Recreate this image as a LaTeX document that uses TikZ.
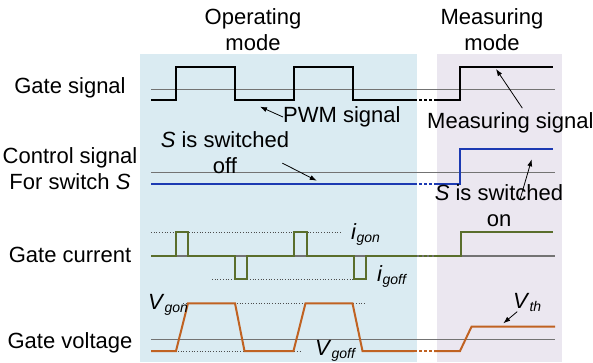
\documentclass[tikz,border=0pt]{standalone}
\usepackage{fontspec}
\setmainfont{Liberation Sans}
\usetikzlibrary{arrows.meta}
\definecolor{opblue}{RGB}{218,235,242}
\definecolor{measlilac}{RGB}{235,231,240}
\definecolor{ctrlblue}{RGB}{28,58,178}
\definecolor{curgreen}{RGB}{90,110,44}
\definecolor{voltorange}{RGB}{192,98,34}
\newcommand{\sigsub}[2]{\textit{#1}\raisebox{-3pt}{\fontsize{14}{14}\selectfont\textit{#2}}}

\begin{document}
\begin{tikzpicture}[x=1pt,y=-1pt,
  every node/.style={font=\fontsize{22}{26}\selectfont,inner sep=0pt},
  lbl/.style={align=center,anchor=base},
  refline/.style={draw=black!55,line width=1.2pt},
  dotline/.style={draw=black!70,line width=0.7pt,dotted},
  gap/.style={dash pattern=on 2.5pt off 2.5pt},
  pointer/.style={line width=0.8pt,-{Latex[length=7pt,width=5pt]}}]
\useasboundingbox (0,0) rectangle (593,362);

% mode areas
\fill[opblue] (140,54) rectangle (417,362);
\fill[measlilac] (437,54) rectangle (562,362);

\node[lbl] (opmode) at (253,50) {Operating\\mode};
\node[lbl] (measmode) at (492,50) {Measuring\\mode};

\node[lbl] (gsig) at (70,93.3) {Gate signal};
\node[lbl] (ctrl) at (70,189.3) {Control signal\\For switch \textit{S}};
\node[lbl] (gcur) at (70,262.3) {Gate current};
\node[lbl] (gvolt) at (70,348.3) {Gate voltage};

% reference lines
\draw[refline] (151,89.3) -- (555,89.3);
\draw[refline] (151,172.7) -- (555,172.7);
\draw[refline] (151,256) -- (555,256);
\draw[refline] (151,339.3) -- (555,339.3);

\draw[dotline] (151,232.3) -- (342,232.3);
\draw[dotline] (212,279.3) -- (367,279.3);
\draw[dotline] (183,303.3) -- (366,303.3);
\draw[dotline] (151,351) -- (300,351);

% gate signal
\draw[line width=2pt,line join=miter] (151,100) -- (176,100) -- (176,66.5) -- (235,66.5) -- (235,100)
  -- (294,100) -- (294,66.5) -- (353,66.5) -- (353,100) -- (414,100);
\draw[line width=2pt,gap] (414,100) -- (434,100);
\draw[line width=2pt] (434,100) -- (460,100) -- (460,66.5) -- (553,66.5);

% control signal
\draw[ctrlblue,line width=2pt] (151,184.3) -- (414,184.3);
\draw[ctrlblue,line width=2pt,gap] (414,184.3) -- (434,184.3);
\draw[ctrlblue,line width=2pt] (434,184.3) -- (460,184.3) -- (460,149) -- (553,149);

% gate current
\draw[curgreen,line width=2pt] (151,256) -- (176,256) -- (176,232.3) -- (188,232.3) -- (188,256)
  -- (234.5,256) -- (234.5,279.3) -- (247,279.3) -- (247,256)
  -- (293.5,256) -- (293.5,232.3) -- (306.5,232.3) -- (306.5,256)
  -- (353.5,256) -- (353.5,279.3) -- (366,279.3) -- (366,256) -- (414,256);
\draw[curgreen,line width=2pt,gap] (414,256) -- (434,256);
\draw[curgreen,line width=2pt] (434,256) -- (460.5,256) -- (460.5,232.3) -- (553,232.3);

% gate voltage
\draw[voltorange,line width=2pt] (151,351) -- (176,351) -- (188,303.3) -- (235,303.3) -- (244.5,351)
  -- (293.5,351) -- (305.5,303.3) -- (352.5,303.3) -- (362.5,351) -- (414,351);
\draw[voltorange,line width=2pt,gap] (414,351) -- (434,351);
\draw[voltorange,line width=2pt] (434,351) -- (460,351) -- (471.5,326.7) -- (555,326.7);

% labels and pointers
\node[anchor=base west] (pwm) at (283,122.7) {PWM signal};
\node[anchor=base west] (msig) at (427,128.3) {Measuring signal};
\node[lbl] (soff) at (225,173) {\textit{S} is switched\\off};
\node[lbl] (son) at (499,226.7) {\textit{S} is switched\\on};
\node[anchor=base west] (igon) at (351,239) {\sigsub{i}{gon}};
\node[anchor=base west] (igoff) at (377,281.7) {\sigsub{i}{goff}};
\node[anchor=base west] (vgon) at (148,309) {\sigsub{V}{gon}};
\node[anchor=base west] (vgoff) at (315,355) {\sigsub{V}{goff}};
\node[anchor=base west] (vth) at (513,308.3) {\sigsub{V}{th}};

\coordinate (pwmtip) at (260,106.7);
\coordinate (msigtip) at (496,69);
\coordinate (sofftip) at (316.7,180.7);
\coordinate (sontip) at (531.7,159.3);
\coordinate (vthtip) at (503.3,323.3);

\draw[pointer] (pwm.west) -- (pwmtip);
\draw[pointer] ([xshift=12pt,yshift=4pt]msig.north) -- (msigtip);
\draw[pointer] ([xshift=-7pt,yshift=-11pt]soff.east) -- (sofftip);
\draw[pointer] ([xshift=21pt,yshift=-15pt]son.north) -- (sontip);
\draw[pointer] ([xshift=-10pt]vth.south) -- (vthtip);

\end{tikzpicture}
\end{document}
